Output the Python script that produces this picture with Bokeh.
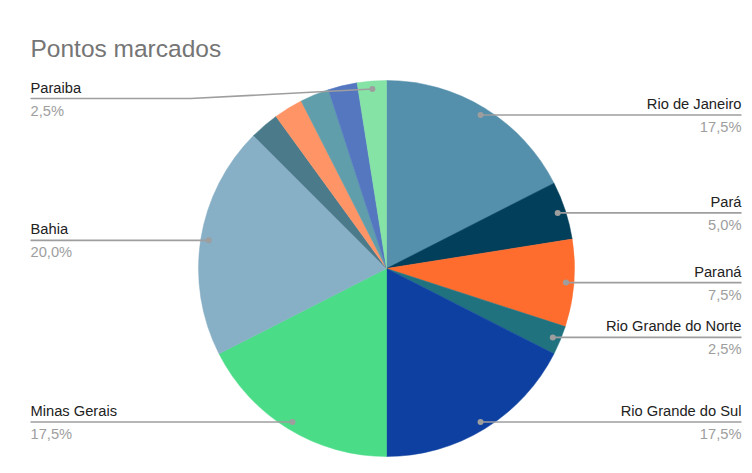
import math
from bokeh.plotting import figure
from bokeh.models import Range1d, ColumnDataSource
from bokeh.core.properties import value
from bokeh.embed import file_html
from bokeh.resources import INLINE

# ---- data ----
title_text = "Pontos marcados"
states = ["Rio de Janeiro", "Pará", "Paraná", "Rio Grande do Norte",
          "Rio Grande do Sul", "Minas Gerais", "Bahia",
          "", "", "", "", "Paraiba"]
percents = [17.5, 5.0, 7.5, 2.5, 17.5, 17.5, 20.0, 2.5, 2.5, 2.5, 2.5, 2.5]
pct_labels = ["17,5%", "5,0%", "7,5%", "2,5%", "17,5%", "17,5%", "20,0%",
              "", "", "", "", "2,5%"]
colors = ["#548fab", "#013f5b", "#ff6d2e", "#21727f", "#0e40a1", "#4bdc88",
          "#87afc5", "#4b7b8a", "#ff9467", "#5f9eaa", "#5477c0", "#86e3a6"]

# ---- layout / style ----
W, H = 744, 465
CX, CY, R = 386, 205, 188
DOT_R = 180
FONT = "Liberation Sans"
label_line_override = {"Paraiba": 375}   # data y for label line

p = figure(width=W, height=H, x_range=Range1d(0, W), y_range=Range1d(8, 8 + H),
           min_border=0, outline_line_color=None, toolbar_location=None,
           output_backend="svg", background_fill_color="white",
           border_fill_color="white")
p.axis.visible = False
p.xgrid.visible = False
p.ygrid.visible = False

total = sum(percents)
starts, ends, mids = [], [], []
cum = 0.0
for v in percents:
    t1 = cum / total * 2 * math.pi
    cum += v
    t2 = cum / total * 2 * math.pi
    starts.append(math.pi / 2 - t2)
    ends.append(math.pi / 2 - t1)
    mids.append((t1 + t2) / 2)

src = ColumnDataSource(dict(start=starts, end=ends, color=colors))
p.wedge(x=CX, y=CY, radius=R, start_angle="start", end_angle="end",
        fill_color="color", line_color="color", line_width=0.5, source=src)

dot_x, dot_y = [], []
for name, pct, m in zip(states, pct_labels, mids):
    if not name:
        continue
    dx = CX + DOT_R * math.sin(m)
    dy = CY + DOT_R * math.cos(m)
    ly = label_line_override.get(name, dy)
    right = math.sin(m) > 0
    if right:
        xs = [dx, 741]
        ys = [dy, ly]
        tx, align = 741, "right"
    else:
        if abs(ly - dy) > 1:
            xs = [30, 190, dx]
            ys = [ly, ly, dy]
        else:
            xs = [30, dx]
            ys = [ly, dy]
        tx, align = 30, "left"
    p.line(xs, ys, line_color="#9e9e9e", line_width=1.6)
    dot_x.append(dx)
    dot_y.append(dy)
    p.text(x=[tx], y=[ly + 3], text=[name], text_align=align,
           text_baseline="bottom", text_font=value(FONT),
           text_font_size="14.7px", text_color="#222222")
    p.text(x=[tx], y=[ly - 4], text=[pct], text_align=align,
           text_baseline="top", text_font=value(FONT),
           text_font_size="14.7px", text_color="#9e9e9e")

p.scatter(dot_x, dot_y, size=6, fill_color="#9e9e9e", line_color=None)

p.text(x=[30], y=[473 - 48], text=[title_text], text_align="left",
       text_baseline="middle", text_font=value(FONT), text_font_size="24.5px",
       text_color="#757575")

open("out.html", "w").write(file_html(p, INLINE))
